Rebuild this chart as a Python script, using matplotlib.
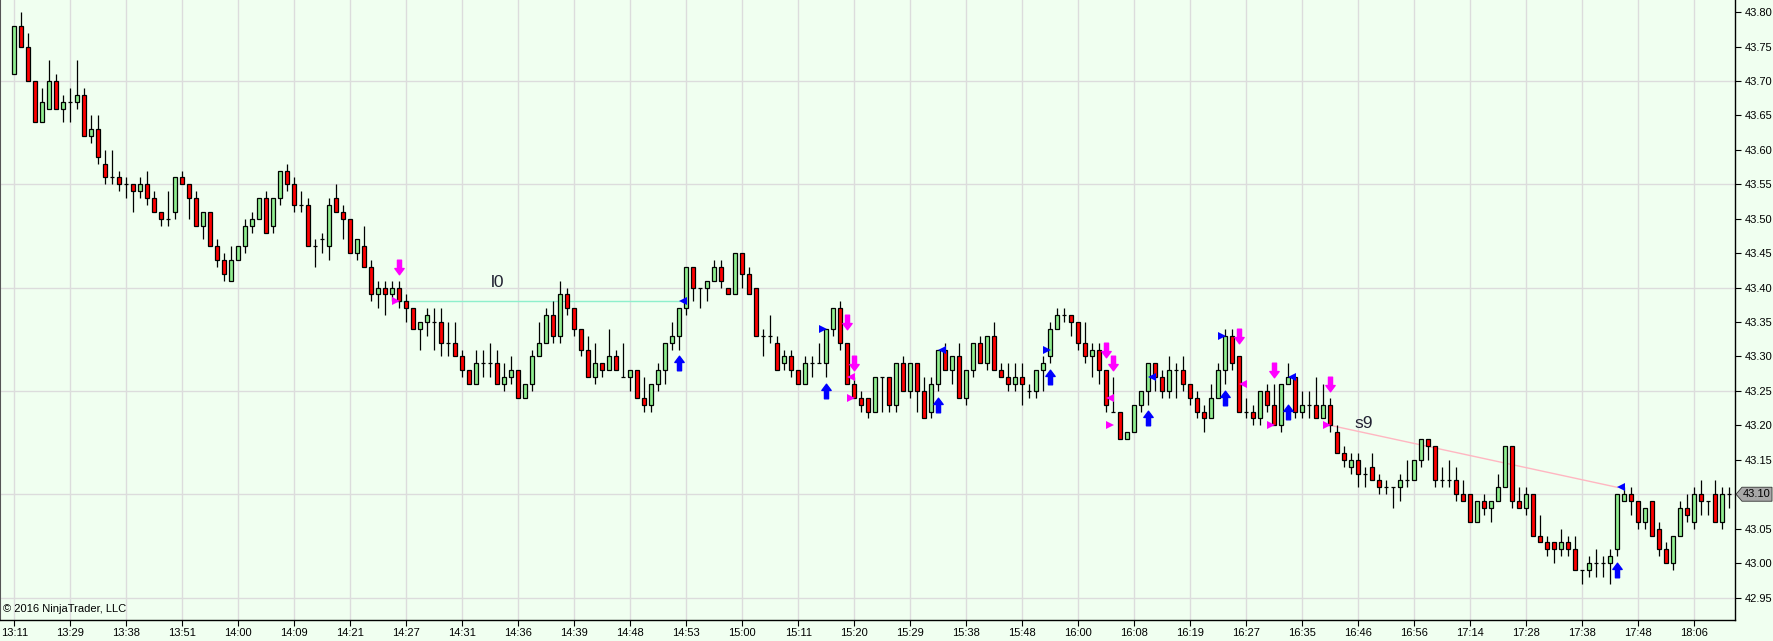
import numpy as np
import matplotlib
matplotlib.use("Agg")
import matplotlib.pyplot as plt
from matplotlib.path import Path
from matplotlib.patches import Polygon

plt.rcParams['font.family'] = ['Liberation Sans', 'DejaVu Sans']

# --- data (one entry per bar) ---
opens = [43.71, 43.78, 43.75, 43.70, 43.64, 43.66, 43.70, 43.66, 43.67, 43.67,
         43.68, 43.62, 43.63, 43.58, 43.56, 43.56, 43.55, 43.55, 43.54, 43.55,
         43.53, 43.51, 43.50, 43.51, 43.56, 43.55, 43.53, 43.49, 43.51, 43.46,
         43.44, 43.41, 43.44, 43.46, 43.49, 43.50, 43.53, 43.49, 43.53, 43.57,
         43.55, 43.52, 43.52, 43.46, 43.47, 43.46, 43.53, 43.51, 43.50, 43.45,
         43.46, 43.43, 43.39, 43.40, 43.39, 43.40, 43.38, 43.37, 43.34, 43.35,
         43.35, 43.35, 43.32, 43.32, 43.30, 43.28, 43.26, 43.29, 43.29, 43.29,
         43.26, 43.27, 43.28, 43.24, 43.26, 43.30, 43.32, 43.36, 43.33, 43.39,
         43.37, 43.34, 43.31, 43.27, 43.29, 43.28, 43.30, 43.27, 43.27, 43.28,
         43.24, 43.23, 43.26, 43.28, 43.32, 43.33, 43.37, 43.43, 43.40, 43.40,
         43.41, 43.43, 43.40, 43.39, 43.45, 43.42, 43.40, 43.33, 43.33, 43.32,
         43.29, 43.30, 43.28, 43.26, 43.29, 43.29, 43.29, 43.34, 43.37, 43.32,
         43.26, 43.24, 43.24, 43.22, 43.27, 43.27, 43.23, 43.29, 43.25, 43.29,
         43.25, 43.22, 43.26, 43.31, 43.28, 43.30, 43.24, 43.28, 43.32, 43.29,
         43.33, 43.28, 43.27, 43.26, 43.27, 43.25, 43.25, 43.28, 43.30, 43.34,
         43.36, 43.36, 43.35, 43.32, 43.30, 43.31, 43.28, 43.22, 43.22, 43.18,
         43.19, 43.23, 43.25, 43.29, 43.27, 43.25, 43.28, 43.28, 43.26, 43.24,
         43.22, 43.21, 43.24, 43.28, 43.33, 43.30, 43.22, 43.22, 43.21, 43.25,
         43.23, 43.20, 43.26, 43.27, 43.22, 43.23, 43.23, 43.21, 43.23, 43.19,
         43.16, 43.14, 43.15, 43.13, 43.14, 43.12, 43.11, 43.11, 43.11, 43.12,
         43.12, 43.15, 43.18, 43.17, 43.12, 43.12, 43.12, 43.10, 43.10, 43.06,
         43.09, 43.08, 43.09, 43.11, 43.17, 43.09, 43.08, 43.10, 43.04, 43.03,
         43.03, 43.02, 43.03, 43.02, 42.99, 42.99, 43.00, 43.00, 43.00, 43.02,
         43.09, 43.10, 43.09, 43.06, 43.09, 43.05, 43.02, 43.00, 43.04, 43.08,
         43.06, 43.10, 43.09, 43.10, 43.06, 43.10]
highs = [43.78, 43.80, 43.77, 43.70, 43.69, 43.73, 43.71, 43.68, 43.69, 43.73,
         43.69, 43.65, 43.65, 43.60, 43.60, 43.57, 43.56, 43.55, 43.56, 43.57,
         43.54, 43.51, 43.54, 43.56, 43.57, 43.55, 43.54, 43.51, 43.51, 43.47,
         43.45, 43.46, 43.46, 43.50, 43.51, 43.53, 43.54, 43.53, 43.57, 43.58,
         43.56, 43.54, 43.53, 43.47, 43.48, 43.53, 43.55, 43.52, 43.50, 43.47,
         43.49, 43.44, 43.41, 43.41, 43.41, 43.41, 43.39, 43.37, 43.35, 43.37,
         43.37, 43.37, 43.35, 43.35, 43.31, 43.28, 43.31, 43.31, 43.32, 43.31,
         43.29, 43.30, 43.28, 43.26, 43.31, 43.35, 43.37, 43.38, 43.41, 43.40,
         43.37, 43.34, 43.33, 43.32, 43.29, 43.34, 43.31, 43.32, 43.28, 43.28,
         43.27, 43.26, 43.29, 43.32, 43.35, 43.37, 43.43, 43.43, 43.40, 43.41,
         43.44, 43.44, 43.40, 43.45, 43.45, 43.43, 43.40, 43.34, 43.36, 43.33,
         43.31, 43.31, 43.28, 43.30, 43.30, 43.32, 43.34, 43.37, 43.38, 43.32,
         43.27, 43.25, 43.24, 43.27, 43.27, 43.27, 43.29, 43.30, 43.29, 43.29,
         43.27, 43.27, 43.31, 43.32, 43.30, 43.32, 43.28, 43.32, 43.33, 43.33,
         43.35, 43.29, 43.29, 43.29, 43.29, 43.26, 43.28, 43.30, 43.35, 43.37,
         43.37, 43.36, 43.35, 43.35, 43.32, 43.32, 43.28, 43.27, 43.22, 43.19,
         43.23, 43.25, 43.29, 43.29, 43.28, 43.30, 43.29, 43.30, 43.26, 43.25,
         43.23, 43.26, 43.29, 43.34, 43.34, 43.30, 43.24, 43.23, 43.25, 43.26,
         43.26, 43.26, 43.29, 43.27, 43.25, 43.25, 43.27, 43.26, 43.24, 43.20,
         43.17, 43.16, 43.16, 43.14, 43.16, 43.13, 43.12, 43.11, 43.13, 43.15,
         43.15, 43.18, 43.18, 43.17, 43.14, 43.15, 43.14, 43.12, 43.10, 43.09,
         43.10, 43.09, 43.13, 43.17, 43.17, 43.11, 43.11, 43.10, 43.07, 43.04,
         43.03, 43.05, 43.04, 43.04, 42.99, 43.01, 43.02, 43.01, 43.02, 43.10,
         43.11, 43.11, 43.09, 43.08, 43.09, 43.06, 43.03, 43.04, 43.09, 43.10,
         43.11, 43.12, 43.09, 43.12, 43.11, 43.11]
lows = [43.71, 43.75, 43.70, 43.64, 43.64, 43.66, 43.66, 43.64, 43.64, 43.66,
        43.62, 43.61, 43.58, 43.55, 43.55, 43.54, 43.53, 43.51, 43.53, 43.52,
        43.51, 43.49, 43.49, 43.50, 43.55, 43.50, 43.49, 43.47, 43.46, 43.43,
        43.41, 43.41, 43.44, 43.45, 43.48, 43.50, 43.48, 43.48, 43.52, 43.54,
        43.51, 43.51, 43.46, 43.43, 43.45, 43.44, 43.51, 43.47, 43.45, 43.44,
        43.43, 43.38, 43.37, 43.36, 43.38, 43.37, 43.35, 43.34, 43.31, 43.33,
        43.31, 43.30, 43.30, 43.30, 43.27, 43.26, 43.26, 43.27, 43.27, 43.26,
        43.25, 43.26, 43.24, 43.24, 43.25, 43.30, 43.32, 43.32, 43.32, 43.36,
        43.33, 43.30, 43.27, 43.26, 43.27, 43.28, 43.28, 43.27, 43.25, 43.24,
        43.22, 43.22, 43.25, 43.26, 43.31, 43.31, 43.36, 43.38, 43.37, 43.38,
        43.41, 43.40, 43.39, 43.39, 43.40, 43.39, 43.33, 43.30, 43.32, 43.28,
        43.28, 43.27, 43.26, 43.26, 43.27, 43.29, 43.27, 43.33, 43.31, 43.26,
        43.24, 43.22, 43.21, 43.22, 43.22, 43.22, 43.22, 43.25, 43.24, 43.22,
        43.21, 43.21, 43.25, 43.28, 43.26, 43.24, 43.23, 43.27, 43.29, 43.28,
        43.28, 43.27, 43.25, 43.25, 43.23, 43.24, 43.24, 43.25, 43.29, 43.34,
        43.35, 43.33, 43.31, 43.29, 43.27, 43.26, 43.22, 43.22, 43.18, 43.18,
        43.19, 43.22, 43.23, 43.25, 43.24, 43.24, 43.24, 43.25, 43.23, 43.21,
        43.19, 43.21, 43.24, 43.26, 43.28, 43.22, 43.21, 43.20, 43.20, 43.22,
        43.20, 43.19, 43.26, 43.21, 43.21, 43.21, 43.21, 43.21, 43.19, 43.16,
        43.14, 43.13, 43.11, 43.11, 43.12, 43.10, 43.10, 43.08, 43.09, 43.11,
        43.12, 43.14, 43.15, 43.11, 43.11, 43.11, 43.09, 43.09, 43.06, 43.06,
        43.07, 43.06, 43.09, 43.11, 43.08, 43.08, 43.07, 43.04, 43.03, 43.01,
        43.00, 43.01, 43.01, 42.99, 42.97, 42.98, 42.98, 42.98, 42.97, 43.01,
        43.09, 43.07, 43.05, 43.05, 43.04, 43.01, 43.00, 42.99, 43.04, 43.06,
        43.05, 43.07, 43.07, 43.06, 43.05, 43.08]
closes = [43.78, 43.75, 43.70, 43.64, 43.67, 43.70, 43.66, 43.67, 43.67, 43.68,
          43.62, 43.63, 43.59, 43.56, 43.56, 43.55, 43.55, 43.54, 43.55, 43.53,
          43.51, 43.50, 43.50, 43.56, 43.55, 43.53, 43.49, 43.51, 43.46, 43.44,
          43.42, 43.44, 43.46, 43.49, 43.50, 43.53, 43.48, 43.53, 43.57, 43.55,
          43.52, 43.52, 43.46, 43.46, 43.47, 43.52, 43.51, 43.50, 43.45, 43.47,
          43.43, 43.39, 43.40, 43.39, 43.40, 43.38, 43.37, 43.34, 43.35, 43.36,
          43.35, 43.32, 43.32, 43.30, 43.28, 43.26, 43.29, 43.29, 43.29, 43.26,
          43.27, 43.28, 43.24, 43.26, 43.30, 43.32, 43.36, 43.33, 43.39, 43.37,
          43.34, 43.31, 43.27, 43.29, 43.28, 43.30, 43.28, 43.27, 43.28, 43.24,
          43.23, 43.26, 43.28, 43.32, 43.33, 43.37, 43.43, 43.40, 43.40, 43.41,
          43.43, 43.41, 43.39, 43.45, 43.42, 43.39, 43.33, 43.33, 43.33, 43.28,
          43.30, 43.28, 43.26, 43.29, 43.29, 43.29, 43.34, 43.37, 43.32, 43.26,
          43.24, 43.23, 43.22, 43.27, 43.27, 43.23, 43.29, 43.25, 43.29, 43.25,
          43.21, 43.26, 43.31, 43.28, 43.30, 43.24, 43.28, 43.32, 43.29, 43.33,
          43.28, 43.27, 43.26, 43.27, 43.26, 43.25, 43.28, 43.29, 43.34, 43.36,
          43.36, 43.35, 43.32, 43.30, 43.31, 43.28, 43.23, 43.22, 43.18, 43.19,
          43.23, 43.25, 43.29, 43.27, 43.25, 43.28, 43.28, 43.26, 43.24, 43.22,
          43.21, 43.24, 43.28, 43.33, 43.29, 43.22, 43.22, 43.21, 43.25, 43.23,
          43.20, 43.26, 43.27, 43.22, 43.23, 43.23, 43.21, 43.23, 43.20, 43.16,
          43.15, 43.15, 43.13, 43.13, 43.12, 43.11, 43.11, 43.11, 43.12, 43.12,
          43.15, 43.18, 43.17, 43.12, 43.12, 43.12, 43.10, 43.09, 43.06, 43.09,
          43.08, 43.09, 43.11, 43.17, 43.09, 43.08, 43.10, 43.04, 43.03, 43.02,
          43.02, 43.03, 43.02, 42.99, 42.99, 43.00, 43.00, 43.00, 43.01, 43.10,
          43.10, 43.09, 43.06, 43.08, 43.04, 43.02, 43.00, 43.04, 43.08, 43.07,
          43.10, 43.09, 43.09, 43.06, 43.10, 43.10]

time_labels = ["13:11", "13:29", "13:38", "13:51", "14:00", "14:09", "14:21", "14:27",
               "14:31", "14:36", "14:39", "14:48", "14:53", "15:00", "15:11", "15:20",
               "15:29", "15:38", "15:48", "16:00", "16:08", "16:19", "16:27", "16:35",
               "16:46", "16:56", "17:14", "17:28", "17:38", "17:48", "18:06"]
label_every = 8

# signal markers (bar index, price)
sell_arrow_idx = [55, 119, 120, 156, 157, 175, 180, 188]
sell_arrow_px = [43.43, 43.35, 43.29, 43.31, 43.29, 43.33, 43.28, 43.26]
buy_arrow_idx = [95, 116, 132, 148, 162, 173, 182, 229]
buy_arrow_px = [43.29, 43.25, 43.23, 43.27, 43.21, 43.24, 43.22, 42.99]
mag_left_idx = [119, 156, 175]
mag_left_px = [43.27, 43.24, 43.26]
mag_right_idx = [55, 120, 157, 180, 188]
mag_right_px = [43.38, 43.24, 43.20, 43.20, 43.20]
blue_left_idx = [95, 132, 162, 182, 229]
blue_left_px = [43.38, 43.31, 43.27, 43.27, 43.11]
blue_right_idx = [116, 148, 173]
blue_right_px = [43.34, 43.31, 43.33]

# drawn lines with their labels
l0_idx = [55, 95]
l0_px = [43.38, 43.38]
s9_idx = [188, 229]
s9_px = [43.20, 43.11]

o = np.array(opens)
h = np.array(highs)
l = np.array(lows)
c = np.array(closes)
x = np.arange(len(o))

bg = '#F0FFF0'
fig = plt.figure(figsize=(17.73, 6.41), dpi=100, facecolor=bg)
ax = fig.add_axes([0.0, 21 / 641, 1735 / 1773, 620 / 641], facecolor=bg)

# grid
for gx in range(0, len(x), label_every):
    ax.axvline(gx, color='#DCDCDC', lw=1.0, zorder=0)
for gy in np.arange(42.95, 43.81, 0.15):
    ax.axhline(gy, color='#DCDCDC', lw=1.0, zorder=0)

# wicks
ax.vlines(x, l, h, color='black', lw=0.9, zorder=2)
# bodies
colors = np.where(c > o, '#90EE90', np.where(c < o, '#FF0000', 'black'))
ax.bar(x, c - o, bottom=o, width=0.6, color=colors, edgecolor='black',
       linewidth=0.9, zorder=3)

# drawn lines
ax.plot(l0_idx, l0_px, color='#8EEFCC', lw=1.0, zorder=1)
ax.plot(s9_idx, s9_px, color='#FFB6C1', lw=1.0, zorder=1)
ax.text(69, 43.407, 'l0', fontsize=12.5, color='#222233', ha='center', va='center')
ax.text(192.8, 43.203, 's9', fontsize=12.5, color='#222233', ha='center', va='center')

# arrow markers
up_verts = [(-0.14, -0.5), (0.14, -0.5), (0.14, 0.07), (0.32, 0.07), (0, 0.5),
            (-0.32, 0.07), (-0.14, 0.07), (-0.14, -0.5)]
up_arrow = Path(up_verts, closed=True)
down_arrow = Path([(vx, -vy) for vx, vy in up_verts], closed=True)
ax.plot(sell_arrow_idx, sell_arrow_px, ls='none', marker=down_arrow, ms=10.5,
        color='#FF00FF', mec='#FF00FF', zorder=5)
ax.plot(buy_arrow_idx, buy_arrow_px, ls='none', marker=up_arrow, ms=10.5,
        color='#0000FF', mec='#0000FF', zorder=5)

off = 0.5
ax.plot(np.array(mag_left_idx) + off, mag_left_px, ls='none', marker='<', ms=5.5,
        color='#FF00FF', mew=0, zorder=5)
ax.plot(np.array(mag_right_idx) - off, mag_right_px, ls='none', marker='>', ms=5.5,
        color='#FF00FF', mew=0, zorder=5)
ax.plot(np.array(blue_left_idx) + off, blue_left_px, ls='none', marker='<', ms=5.5,
        color='#0000FF', mew=0, zorder=5)
ax.plot(np.array(blue_right_idx) - off, blue_right_px, ls='none', marker='>', ms=5.5,
        color='#0000FF', mew=0, zorder=5)

# axes
ax.set_xlim(-14.3 / 7, (1735 - 14.3) / 7)
ax.set_ylim(43.70 - 539 / 688.7, 43.70 + 81 / 688.7)
ax.set_xticks(np.arange(0, len(x), label_every))
ax.set_xticklabels(time_labels)
yt = np.arange(42.95, 43.801, 0.05)
ax.set_yticks(yt)
ax.set_yticklabels(['%.2f' % v for v in yt])
ax.yaxis.tick_right()
ax.tick_params(axis='both', direction='out', length=4, width=0.8, color='black',
               labelsize=8, pad=2)
ax.tick_params(axis='y', pad=3)
for side in ['top']:
    ax.spines[side].set_visible(False)
ax.spines['left'].set_color('#555555')
ax.spines['left'].set_linewidth(1.5)
ax.spines['right'].set_linewidth(1.0)
ax.spines['bottom'].set_linewidth(1.0)

# last price tag on the right axis
last = closes[-1]
pw = 1 / 1735
ph = 7 / 688.7
tag = Polygon([(1 + 1 * pw, last), (1 + 7 * pw, last + ph), (1 + 37 * pw, last + ph),
               (1 + 37 * pw, last - ph), (1 + 7 * pw, last - ph)],
              closed=True, facecolor='#A8A8A8', edgecolor='#333333', lw=0.6,
              transform=ax.get_yaxis_transform(), clip_on=False, zorder=10)
ax.add_patch(tag)
ax.text(1 + 22 * pw, last, '%.2f' % last, transform=ax.get_yaxis_transform(),
        fontsize=8, ha='center', va='center', color='black', zorder=11, clip_on=False)

ax.text(0.002, 0.01, '\u00a9 2016 NinjaTrader, LLC', transform=ax.transAxes,
        fontsize=8, ha='left', va='bottom', color='black')

fig.savefig('out.png', dpi=100, facecolor=bg)
